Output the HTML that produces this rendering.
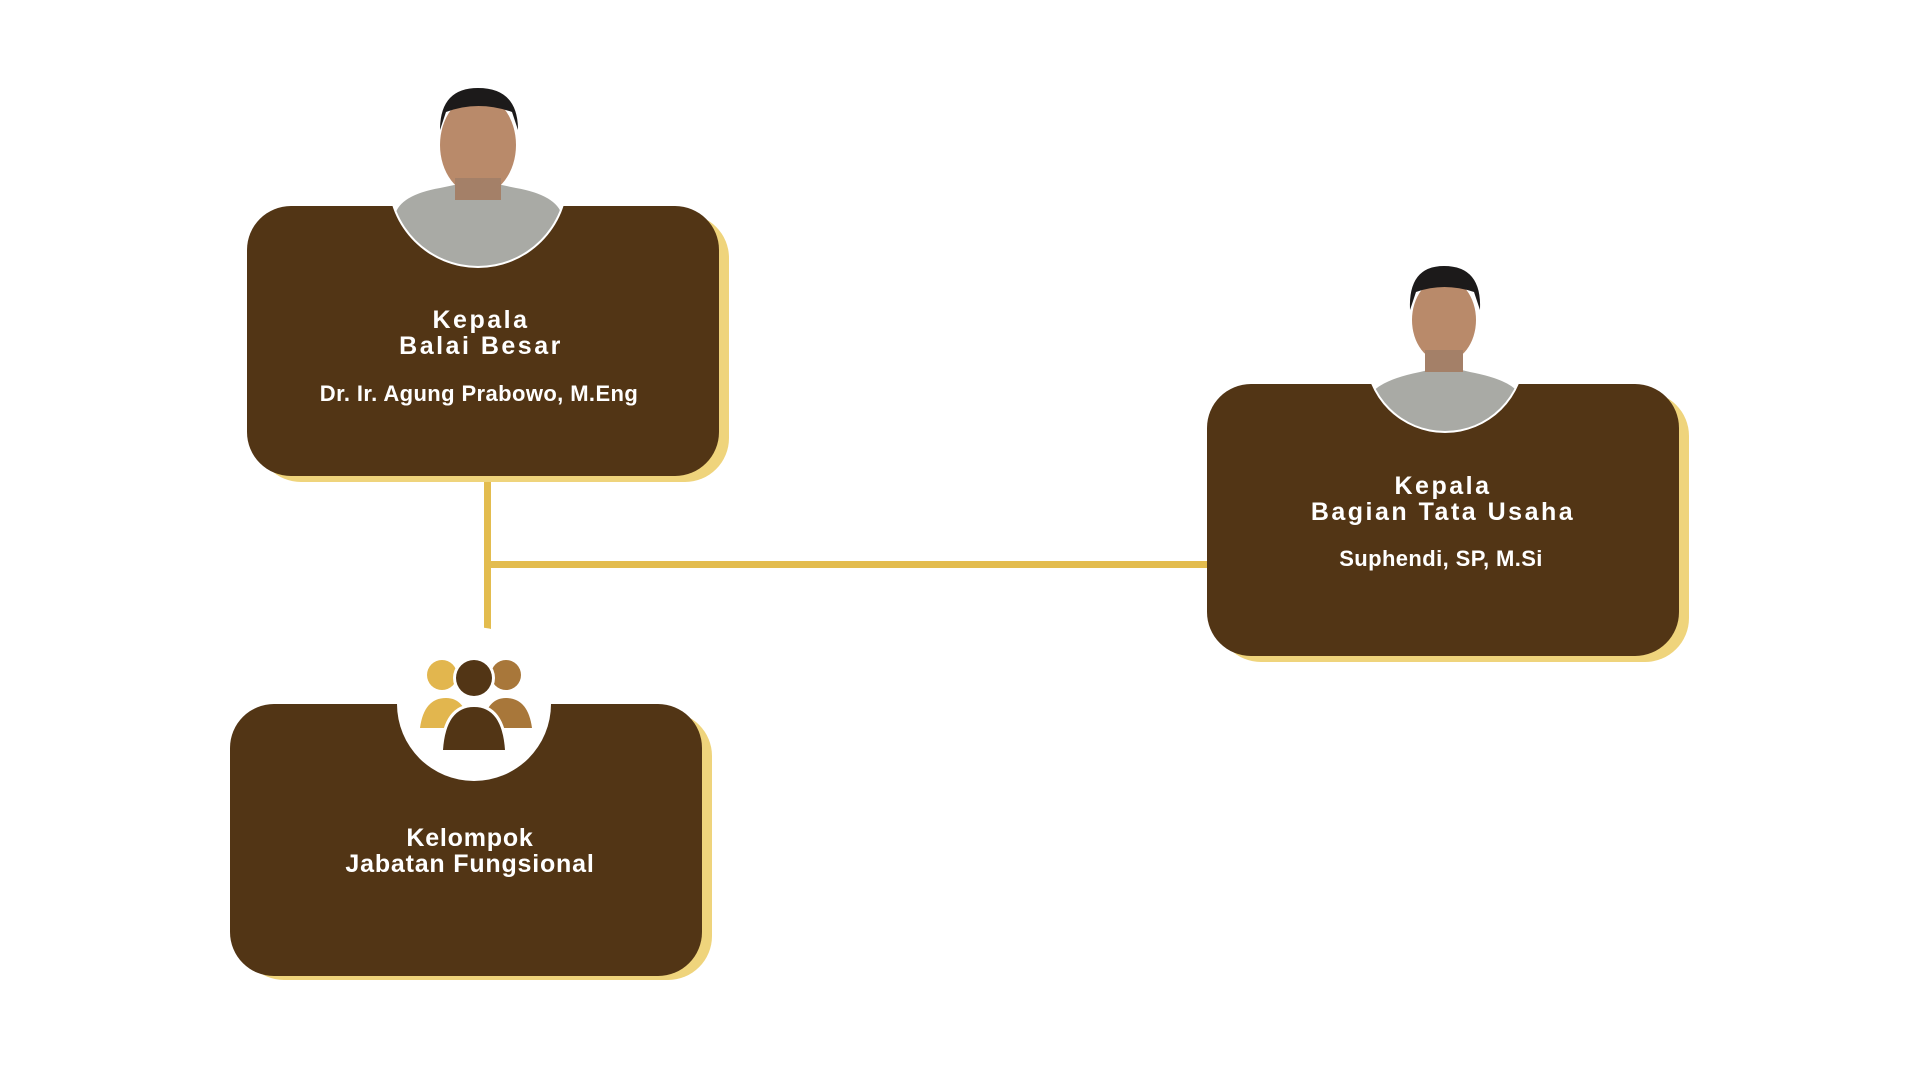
<!DOCTYPE html>
<html><head><meta charset="utf-8"><style>
body{margin:0;width:1920px;height:1080px;background:#fff;position:relative;overflow:hidden;font-family:"Liberation Sans",sans-serif}
.sh{position:absolute;background:#efd47c;border-radius:44px}
.bx{position:absolute;background:#523515;border-radius:44px;color:#fff;text-align:center;font-weight:bold}
.ln{position:absolute;background:#e3bc4e}
.t{position:absolute;left:0;right:0;font-size:25px;letter-spacing:2.5px;line-height:26px}
.n{position:absolute;left:0;right:0;font-size:22px;letter-spacing:0.4px}
svg{position:absolute;left:0;top:0}
</style></head><body>
<div class="ln" style="left:484px;top:470px;width:7px;height:160px"></div>
<div class="ln" style="left:484px;top:561px;width:730px;height:7px"></div>

<div class="sh" style="left:257px;top:214px;width:472px;height:268px"></div>
<div class="bx" style="left:247px;top:206px;width:472px;height:270px">
<div class="t" style="top:101px;left:-4px">Kepala<br>Balai Besar</div>
<div class="n" style="top:175px;left:-8px">Dr. Ir. Agung Prabowo, M.Eng</div></div>

<div class="sh" style="left:1217px;top:392px;width:472px;height:270px"></div>
<div class="bx" style="left:1207px;top:384px;width:472px;height:272px">
<div class="t" style="top:89px">Kepala<br>Bagian Tata Usaha</div>
<div class="n" style="top:162px;left:-4px">Suphendi, SP, M.Si</div></div>

<div class="sh" style="left:240px;top:712px;width:472px;height:268px"></div>
<div class="bx" style="left:230px;top:704px;width:472px;height:272px">
<div class="t" style="top:121px;letter-spacing:0.8px;left:8px">Kelompok<br>Jabatan Fungsional</div></div>

<svg width="1920" height="1080">
<defs>
<clipPath id="c1"><circle cx="478" cy="178" r="88"/></clipPath>
<clipPath id="c2"><circle cx="1445" cy="353" r="78"/></clipPath>
</defs>
<circle cx="478" cy="178" r="90" fill="#fff"/>
<g clip-path="url(#c1)"><rect x="380" y="80" width="200" height="200" fill="#fff"/>
<path d="M395 215 Q400 195 440 188 L478 180 L516 188 Q556 195 562 215 L562 270 L395 270Z" fill="#a9aaa5"/></g>
<ellipse cx="478" cy="145" rx="38" ry="50" fill="#b98a6a"/>
<path d="M440 130 Q440 88 478 88 Q518 88 518 130 L512 112 Q478 100 446 112Z" fill="#1c1a1a"/>
<rect x="455" y="178" width="46" height="22" fill="#a48068"/>

<circle cx="1445" cy="353" r="80" fill="#fff"/>
<g clip-path="url(#c2)"><rect x="1360" y="270" width="170" height="170" fill="#fff"/>
<path d="M1370 395 Q1380 380 1420 372 L1445 366 L1470 372 Q1512 380 1520 395 L1520 440 L1370 440Z" fill="#a9aaa5"/></g>
<ellipse cx="1444" cy="320" rx="32" ry="42" fill="#b98a6a"/>
<path d="M1410 310 Q1408 266 1444 266 Q1482 266 1480 310 L1474 292 Q1444 282 1416 292Z" fill="#1c1a1a"/>
<rect x="1425" y="350" width="38" height="22" fill="#a48068"/>

<circle cx="474" cy="704" r="77" fill="#fff"/>
<circle cx="442" cy="675" r="15" fill="#e2b64e"/>
<path d="M420 728 Q424 698 446 698 Q466 698 470 728Z" fill="#e2b64e"/>
<circle cx="506" cy="675" r="15" fill="#a8773a"/>
<path d="M482 728 Q486 698 506 698 Q528 698 532 728Z" fill="#a8773a"/>
<circle cx="474" cy="678" r="21" fill="#fff"/>
<circle cx="474" cy="678" r="18" fill="#523515"/>
<path d="M443 750 Q446 707 474 707 Q502 707 505 750Z" fill="#fff" stroke="#fff" stroke-width="6"/>
<path d="M443 750 Q446 707 474 707 Q502 707 505 750Z" fill="#523515"/>
</svg>
</body></html>
